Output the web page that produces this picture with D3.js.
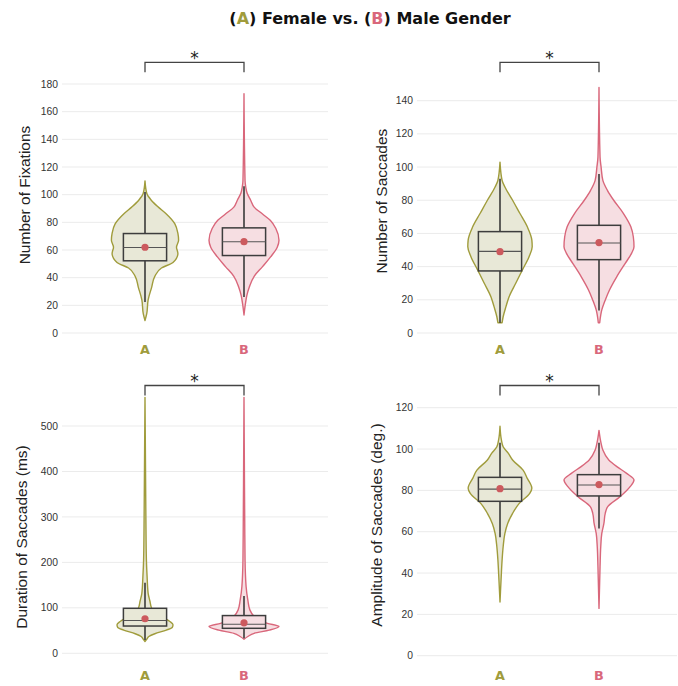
<!DOCTYPE html>
<html lang="en">
<head>
<meta charset="UTF-8" />
<title>Female vs. Male Gender</title>
<script src="https://d3js.org/d3.v7.min.js"></script>
<style>
    body { margin: 0; background: #fff; }
    svg { display: block; }
</style>
</head>
<body>
<div id="chart"></div>
<script>
    // --- Data ---
    const categories = ["A", "B"];
    const categoryColors = ["#a09c3c", "#d9677b"];
    const fillColors = ["#e8e8d7", "#f6dee2"];

    // violin profiles: [value, relative density]
    const fixA = [[9,0],[14,.05],[24,.09],[33,.19],[41,.28],[47,.47],[51,.80],[57.5,.94],[62,.90],[67,.96],[72,.94],[79,.85],[86,.61],[91,.38],[96,.18],[101,.05],[110,0]];
    const fixB = [[13,0],[21,.04],[27,.08],[33,.15],[41,.29],[48,.53],[55,.76],[62,.95],[67,1.0],[75.5,.91],[81.5,.75],[86,.53],[91,.29],[96,.19],[101,.09],[105.5,.05],[110,.03],[173,0]];
    const sacA = [[6.2,.06],[9.8,.09],[15.9,.17],[21.9,.26],[30,.45],[38,.64],[46,.83],[52,.92],[56,.91],[64,.78],[72,.57],[80,.36],[88,.14],[92,.06],[103,0]];
    const sacB = [[6.2,.02],[13.9,.08],[19.9,.18],[25.9,.30],[34,.51],[42,.75],[48,.93],[52,1.0],[58,.98],[64,.91],[72,.70],[80,.42],[86,.24],[92,.11],[100,.06],[106,.03],[148,0]];
    const durA = [[26,0],[31,.05],[37,.11],[43,.28],[51,.61],[57,.78],[63,.80],[70,.71],[77,.57],[88,.28],[99,.19],[115,.14],[132,.09],[169,.06],[205,.04],[300,.025],[563,0]];
    const durB = [[31,0],[37,.11],[44,.29],[51,.72],[59,1.0],[66,.67],[73,.42],[81,.29],[95,.17],[117,.11],[147,.06],[205,.03],[300,.02],[563,0]];
    const ampA = [[26,0],[36.6,.03],[46.3,.06],[52.7,.09],[59.2,.14],[64,.22],[68.9,.36],[73.7,.55],[78.5,.85],[81,.91],[85.8,.78],[89.8,.66],[94.7,.36],[97.9,.24],[101.1,.09],[104.4,.04],[111,0]];
    const ampB = [[22.9,0],[43,.03],[52.7,.05],[59.2,.08],[64,.14],[69,.18],[72.1,.25],[76.9,.60],[81.8,.89],[85,1.0],[88.2,.79],[91.5,.51],[94.7,.28],[99.5,.11],[102.7,.06],[109,0]];

    // box stats: [lower whisker, q1, median, q3, upper whisker]
    const fixBox = [[22.4, 52.2, 61.8, 71.9, 102], [26, 56, 66, 76, 106]];
    const sacBox = [[6.2, 37.4, 49.2, 61.1, 93], [13.5, 44.2, 54.2, 64.9, 95.8]];
    const durBox = [[29, 60, 72, 99, 155], [33, 55, 64, 83, 126]];
    const ampBox = [[57.3, 74.7, 80.6, 86.3, 103], [61.6, 77.3, 82.6, 87.6, 103]];

    const fixMean = [62, 66];
    const sacMean = [49, 54.5];
    const durMean = [76, 67];
    const ampMean = [80.8, 82.8];

    const fixTicks = [0, 20, 40, 60, 80, 100, 120, 140, 160, 180];
    const sacTicks = [0, 20, 40, 60, 80, 100, 120, 140];
    const durTicks = [0, 100, 200, 300, 400, 500];
    const ampTicks = [0, 20, 40, 60, 80, 100, 120];

    const panels = [
        { title: "Number of Fixations", violins: [fixA, fixB], box: fixBox, mean: fixMean, ticks: fixTicks,
          x0: 62, x1: 328, y0: 333, y1: 84, titleX: 25, titleY: 195, row: 0 },
        { title: "Number of Saccades", violins: [sacA, sacB], box: sacBox, mean: sacMean, ticks: sacTicks,
          x0: 417, x1: 677, y0: 333, y1: 100.7, titleX: 382, titleY: 201, row: 0 },
        { title: "Duration of Saccades (ms)", violins: [durA, durB], box: durBox, mean: durMean, ticks: durTicks,
          x0: 62, x1: 328, y0: 653.3, y1: 426, titleX: 22, titleY: 537, row: 1 },
        { title: "Amplitude of Saccades (deg.)", violins: [ampA, ampB], box: ampBox, mean: ampMean, ticks: ampTicks,
          x0: 417, x1: 677, y0: 655.7, y1: 407.7, titleX: 377, titleY: 525, row: 1 }
    ];
    const bracketY = [62.3, 385.5];
    const labelY = [354.3, 680];

    // --- Setup ---
    const width = 678, height = 686;
    const svg = d3.select("#chart").append("svg")
        .attr("width", width)
        .attr("height", height);

    const widthScale = d3.scaleLinear().domain([0, 1]).range([0, 35]);
    const boxHalf = 21.6;

    // title
    const title = svg.append("text")
        .attr("x", 370).attr("y", 24)
        .attr("text-anchor", "middle")
        .attr("font-family", "DejaVu Sans, Verdana, sans-serif")
        .attr("font-weight", "bold")
        .attr("font-size", 16)
        .attr("fill", "#111");
    title.append("tspan").text("(");
    title.append("tspan").attr("fill", categoryColors[0]).text("A");
    title.append("tspan").text(") Female vs. (");
    title.append("tspan").attr("fill", categoryColors[1]).text("B");
    title.append("tspan").text(") Male Gender");

    panels.forEach(p => {
        const g = svg.append("g");
        const y = d3.scaleLinear().domain([0, p.ticks[p.ticks.length - 1]]).range([p.y0, p.y1]);
        const x = d3.scalePoint().domain(categories).range([p.x0 + 83, p.x0 + 182]);

        // grid + tick labels
        g.selectAll("line.grid").data(p.ticks).join("line")
            .attr("class", "grid")
            .attr("x1", p.x0).attr("x2", p.x1)
            .attr("y1", d => y(d)).attr("y2", d => y(d))
            .attr("stroke", "#ebebeb").attr("stroke-width", 1);
        g.selectAll("text.tick").data(p.ticks).join("text")
            .attr("class", "tick")
            .attr("x", p.x0 - 4).attr("y", d => y(d))
            .attr("dy", "0.35em")
            .attr("text-anchor", "end")
            .attr("font-family", "Liberation Sans, Arial, sans-serif")
            .attr("font-size", 10.3)
            .attr("fill", "#333")
            .text(d => d);

        // y title
        g.append("text")
            .attr("transform", `translate(${p.titleX},${p.titleY}) rotate(-90)`)
            .attr("text-anchor", "middle")
            .attr("dy", "0.35em")
            .attr("font-family", "Liberation Sans, Arial, sans-serif")
            .attr("font-size", 15.5)
            .attr("fill", "#222")
            .text(p.title);

        categories.forEach((c, i) => {
            const cx = x(c);
            const area = d3.area()
                .y(d => y(d[0]))
                .x0(d => cx - widthScale(d[1]))
                .x1(d => cx + widthScale(d[1]))
                .curve(d3.curveMonotoneY);
            g.append("path")
                .datum(p.violins[i])
                .attr("d", area)
                .attr("fill", fillColors[i])
                .attr("stroke", categoryColors[i])
                .attr("stroke-width", 1.4)
                .attr("stroke-linejoin", "round");

            const b = p.box[i];
            // whiskers
            g.append("line")
                .attr("x1", cx).attr("x2", cx)
                .attr("y1", y(b[0])).attr("y2", y(b[4]))
                .attr("stroke", "#3a3a3a").attr("stroke-width", 1.6);
            // box
            g.append("rect")
                .attr("x", cx - boxHalf).attr("width", boxHalf * 2)
                .attr("y", y(b[3])).attr("height", y(b[1]) - y(b[3]))
                .attr("fill", fillColors[i])
                .attr("stroke", "#3d3d3d").attr("stroke-width", 1.5);
            // median
            g.append("line")
                .attr("x1", cx - boxHalf).attr("x2", cx + boxHalf)
                .attr("y1", y(b[2])).attr("y2", y(b[2]))
                .attr("stroke", "#555").attr("stroke-width", 1.1);
            // mean
            g.append("circle")
                .attr("cx", cx).attr("cy", y(p.mean[i]))
                .attr("r", 3.6)
                .attr("fill", "#cc5a5e");

            // category label
            g.append("text")
                .attr("x", cx).attr("y", labelY[p.row])
                .attr("text-anchor", "middle")
                .attr("font-family", "DejaVu Sans, Verdana, sans-serif")
                .attr("font-weight", "bold")
                .attr("font-size", 12.8)
                .attr("fill", categoryColors[i])
                .text(c);
        });

        // significance bracket
        const by = bracketY[p.row];
        const xa = x(categories[0]), xb = x(categories[1]);
        g.append("path")
            .attr("d", `M${xa},${by + 10}V${by}H${xb}V${by + 10}`)
            .attr("fill", "none")
            .attr("stroke", "#444").attr("stroke-width", 1.3);
        g.append("text")
            .attr("x", (xa + xb) / 2).attr("y", by + 1.4)
            .attr("text-anchor", "middle")
            .attr("font-family", "DejaVu Sans, sans-serif")
            .attr("font-size", 17)
            .attr("fill", "#222")
            .text("*");
    });
</script>
</body>
</html>
